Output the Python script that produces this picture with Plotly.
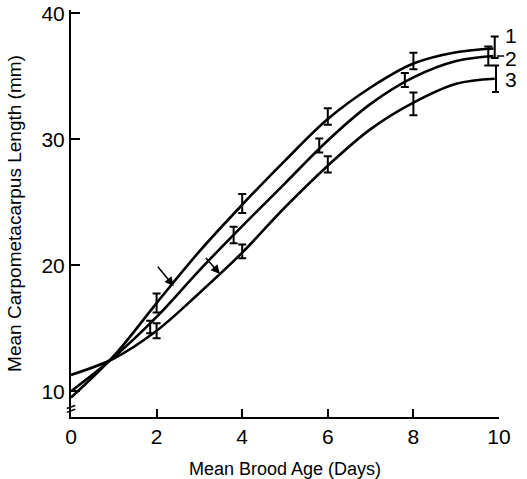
import plotly.graph_objects as go

# Smooth growth curves
c1_x = [0, 1, 2, 3, 4, 5, 6, 7, 8, 9, 9.87]
c1_y = [9.5, 12.8, 17.0, 21.1, 24.8, 28.3, 31.6, 34.1, 36.0, 36.9, 37.2]
c2_x = [0, 1, 2, 3, 4, 5, 6, 7, 8, 9, 9.87]
c2_y = [10.0, 12.7, 15.9, 19.6, 23.1, 26.5, 29.9, 32.8, 34.9, 36.2, 36.6]
c3_x = [0, 1, 2, 3, 4, 5, 6, 7, 8, 9, 9.9]
c3_y = [11.3, 12.6, 14.8, 17.8, 21.0, 24.6, 27.9, 30.8, 32.9, 34.4, 34.8]

# Means with error bars
e1_x = [2.0, 4.0, 6.0, 8.0, 9.9]
e1_y = [17.0, 24.9, 31.8, 36.2, 37.3]
e1_err = [0.75, 0.75, 0.65, 0.65, 0.85]
e2_x = [1.85, 3.8, 5.8, 7.8, 9.75]
e2_y = [15.1, 22.4, 29.5, 34.7, 36.6]
e2_err = [0.5, 0.65, 0.55, 0.55, 0.75]
e3_x = [2.0, 4.0, 6.0, 8.0, 9.93]
e3_y = [14.8, 21.1, 28.0, 32.8, 34.8]
e3_err = [0.6, 0.55, 0.65, 0.9, 1.05]

curve_labels = ["1", "2", "3"]
label_y = [38.25, 36.4, 34.7]

x_ticks = [0, 2, 4, 6, 8, 10]
x_ticktext = ["0", "2", "4", "6", "8", "10"]
y_ticks = [10, 20, 30, 40]

FONT = "Liberation Sans, Arial, sans-serif"

fig = go.Figure()
for cx, cy in [(c1_x, c1_y), (c2_x, c2_y), (c3_x, c3_y)]:
    fig.add_trace(go.Scatter(x=cx, y=cy, mode="lines",
                             line=dict(color="black", width=2.6, shape="spline", smoothing=1.0),
                             hoverinfo="skip", showlegend=False))
for ex, ey, ee in [(e1_x, e1_y, e1_err), (e2_x, e2_y, e2_err), (e3_x, e3_y, e3_err)]:
    fig.add_trace(go.Scatter(x=ex, y=ey, mode="markers",
                             marker=dict(size=1, color="rgba(0,0,0,0)"),
                             error_y=dict(type="data", array=ee, visible=True,
                                          color="black", thickness=2, width=4),
                             showlegend=False))

# curve number labels at right (paper x just right of the plot)
for t, yy in zip(curve_labels, label_y):
    fig.add_annotation(x=1.027, y=yy, xref="paper", yref="y", text=t, showarrow=False,
                       font=dict(family=FONT, size=21, color="black"), xanchor="center")

# arrows
fig.add_annotation(x=2.40, y=18.35, ax=2.0, ay=20.0, xref="x", yref="y", axref="x", ayref="y",
                   text="", showarrow=True, arrowhead=2, arrowsize=1.2, arrowwidth=1.5, arrowcolor="black")
fig.add_annotation(x=3.48, y=19.3, ax=3.12, ay=20.7, xref="x", yref="y", axref="x", ayref="y",
                   text="", showarrow=True, arrowhead=2, arrowsize=1.2, arrowwidth=1.5, arrowcolor="black")

# leader dash to label 2
fig.add_shape(type="line", x0=0.995, x1=1.012, y0=36.6, y1=36.6, xref="paper", yref="y",
              line=dict(color="black", width=1.5))
# axis break marks
for yy in [8.75, 8.45]:
    fig.add_shape(type="line", x0=-0.01, x1=0.01, y0=yy - 0.12, y1=yy + 0.12, xref="paper", yref="y",
                  line=dict(color="black", width=1.5))

fig.update_layout(
    width=527, height=479,
    margin=dict(l=71, r=28, t=10, b=62),
    paper_bgcolor="white", plot_bgcolor="white",
    font=dict(family=FONT, color="black"),
    showlegend=False,
)
fig.update_xaxes(range=[0, 10], tickvals=x_ticks, ticktext=x_ticktext, automargin=False,
                 ticks="inside", ticklen=8, tickwidth=1.5, tickcolor="black",
                 showline=True, linecolor="black", linewidth=2, showgrid=False, zeroline=False,
                 tickfont=dict(size=21, family=FONT),
                 title=dict(text="Mean Brood Age (Days)", font=dict(size=18, family=FONT)))
fig.update_yaxes(range=[7.96, 40.25], tickvals=y_ticks, automargin=False,
                 ticks="inside", ticklen=9, tickwidth=1.5, tickcolor="black",
                 showline=True, linecolor="black", linewidth=2, showgrid=False, zeroline=False,
                 tickfont=dict(size=21, family=FONT),
                 title=dict(text="Mean Carpometacarpus Length (mm)", font=dict(size=19, family=FONT)))

fig.write_html("out.html", config={"displayModeBar": False},
               post_script="document.body.style.margin='0';")
